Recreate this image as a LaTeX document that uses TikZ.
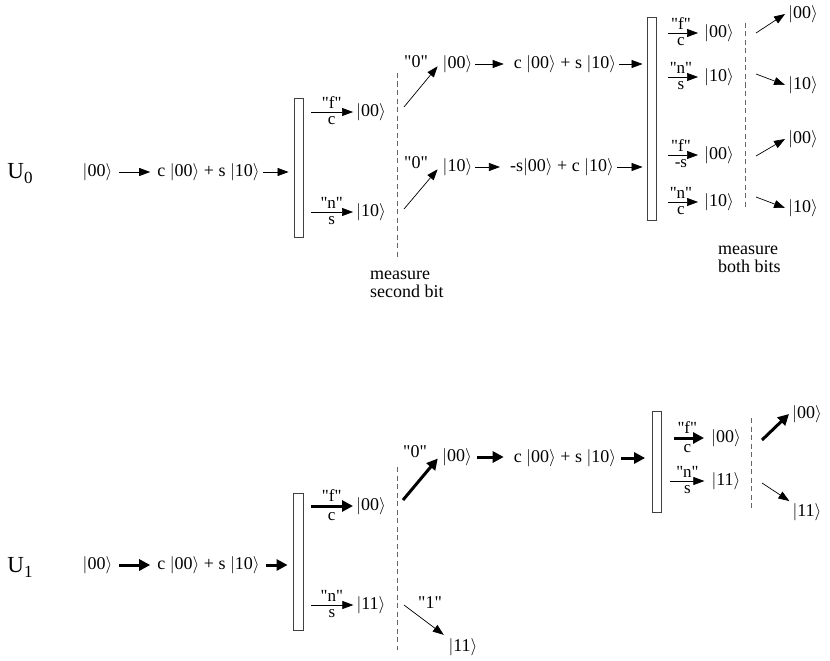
\documentclass[tikz,border=0pt]{standalone}
\usepackage{fontspec}
\setmainfont{Liberation Serif}[Ligatures=TeXOff]
\usepackage{tikz}
\usetikzlibrary{arrows.meta}
\tikzset{font={\fontsize{18pt}{21}\selectfont}}
\newcommand{\ket}[1]{$|$#1$\rangle$}
\newcommand{\qt}[1]{"#1"}

\begin{document}
\begin{tikzpicture}[x=1pt,y=-1pt,
st/.style={inner sep=3pt,text height=12pt,text depth=3.5pt},
lb/.style={inner sep=1.5pt,text height=11pt,text depth=2pt,font={\fontsize{17pt}{19}\selectfont}},
big/.style={font={\fontsize{23pt}{25}\selectfont}},
gate/.style={draw=black!75,line width=0.8pt,minimum width=9pt,inner sep=0pt},
meas/.style={black!60,line width=0.8pt,dash pattern=on 5pt off 3.5pt},
note/.style={align=left,anchor=north west,inner sep=0pt,font={\fontsize{18pt}{18}\selectfont}},
ar/.style={-{Triangle[length=11pt,width=8pt]},line width=0.7pt},
tk/.style={-{Triangle[length=11pt,width=11pt]},line width=3pt}
]
\useasboundingbox (0,0) rectangle (830,661);

% U_0
\node[big] (u0) at (20,174) {U\raisebox{-5pt}{\fontsize{17pt}{18}\selectfont 0}};
\node[st] (k0) at (97.5,172) {\ket{00}};
\node[st] (s0) at (208.5,172) {c \ket{00} + s \ket{10}};
\node[gate,minimum height=139pt] (g0) at (298.5,167.5) {};
\node[st] (a0) at (371,112) {\ket{00}};
\node[st] (b0) at (371,212) {\ket{10}};
\draw[ar,shorten <=4pt,shorten >=4pt] (k0) -- (s0);
\draw[ar,shorten >=5pt] (s0.east) -- (s0.east -| g0.west);
\draw[ar,shorten <=8pt] (g0.east |- a0) -- (a0.west) node[lb,pos=.57,above] {\qt{f}} node[lb,pos=.57,below] {c};
\draw[ar,shorten <=8pt] (g0.east |- b0) -- (b0.west) node[lb,pos=.57,above] {\qt{n}} node[lb,pos=.57,below] {s};

\draw[meas] (397,73) -- (397,257);
\node[note] (m0) at (370,271) {measure\\second bit};

\coordinate (c0) at (404,107);
\coordinate (c1) at (404,209);
\node[st] (z0) at (416,63) {\qt{0}};
\node[st] (z1) at (416,164) {\qt{0}};
\node[st] (a1) at (457.5,64) {\ket{00}};
\node[st] (b1) at (457.5,167) {\ket{10}};
\node[st] (a2) at (565,64) {c \ket{00} + s \ket{10}};
\node[st] (b2) at (562,167) {-s\ket{00} + c \ket{10}};
\node[gate,minimum height=203pt] (g1) at (651.5,118.5) {};
\draw[ar,shorten >=3pt] (c0) -- (a1.west);
\draw[ar,shorten >=3pt] (c1) -- (b1.west);
\draw[ar,shorten >=7pt] (a1) -- (a2);
\draw[ar,shorten >=7pt] (b1) -- (b2);
\draw[ar,shorten >=4pt] (a2.east) -- (a2.east -| g1.west);
\draw[ar,shorten >=4pt] (b2.east) -- (b2.east -| g1.west);

\foreach \n/\yy/\ks/\hi/\lo in {1/33/00/f/c,2/77/10/n/s,3/155/00/f/-s,4/202/10/n/c}
  {\node[st] (o\n) at (719,\yy) {\ket{\ks}};
   \draw[ar,shorten <=12pt,shorten >=3pt] (g1.east |- o\n) -- (o\n.west) node[lb,pos=.55,above] {\qt{\hi}} node[lb,pos=.55,below] {\lo};}

\draw[meas] (745,23) -- (745,208);
\foreach \n/\ey/\py/\ks in {1/33/14/00,2/74/85/10,3/156/139/00,4/197/208/10}
  {\coordinate (e\n) at (756,\ey);
   \node[st] (p\n) at (803,\py) {\ket{\ks}};
   \draw[ar] (e\n) -- (p\n.west);}
\node[note] (m1) at (718,246) {measure\\both bits};

% U_1
\node[big] (u1) at (20,567) {U\raisebox{-5pt}{\fontsize{17pt}{18}\selectfont 1}};
\node[st] (k1) at (97.5,565) {\ket{00}};
\node[st] (s1) at (208.5,565) {c \ket{00} + s \ket{10}};
\node[gate,minimum height=137pt,minimum width=10pt] (g2) at (298,561.5) {};
\node[st] (a3) at (371,506) {\ket{00}};
\node[st] (b3) at (371,605) {\ket{11}};
\draw[tk,shorten <=4pt,shorten >=4pt] (k1) -- (s1);
\draw[tk,shorten <=3pt,shorten >=5pt] (s1.east) -- (s1.east -| g2.west);
\draw[tk,shorten <=8pt] (g2.east |- a3) -- (a3.west) node[lb,pos=.57,above] {\qt{f}} node[lb,pos=.57,below] {c};
\draw[ar,shorten <=8pt] (g2.east |- b3) -- (b3.west) node[lb,pos=.57,above] {\qt{n}} node[lb,pos=.57,below] {s};

\draw[meas] (397,467) -- (397,650);

\coordinate (c2) at (403,500);
\coordinate (c3) at (404,605);
\node[st] (z2) at (415,453) {\qt{0}};
\node[st] (z3) at (430,604) {\qt{1}};
\node[st] (a4) at (457,457) {\ket{00}};
\node[st] (b4) at (463,647) {\ket{11}};
\node[st] (a5) at (565,458) {c \ket{00} + s \ket{10}};
\node[gate,minimum height=101pt] (g3) at (657,461.5) {};
\draw[tk,shorten >=2pt] (c2) -- (a4.west);
\draw[ar,shorten >=2pt] (c3) -- (b4.north west);
\draw[tk,shorten <=2pt,shorten >=7pt] (a4.east) -- (a4.east -| a5.west);
\draw[tk,shorten <=2pt,shorten >=7pt] (a5.east) -- (a5.east -| g3.west);

\node[st] (o5) at (726,438) {\ket{00}};
\node[st] (o6) at (726,481) {\ket{11}};
\draw[tk,shorten <=12pt,shorten >=4pt] (g3.east |- o5) -- (o5.west) node[lb,pos=.55,above] {\qt{f}} node[lb,pos=.55,below] {c};
\draw[ar,shorten <=8.5pt,shorten >=4pt] (g3.east |- o6) -- (o6.west) node[lb,pos=.55,above] {\qt{n}} node[lb,pos=.55,below] {s};

\draw[meas] (751,418) -- (751,510);
\coordinate (e5) at (762,440);
\coordinate (e6) at (762,483);
\node[st] (p5) at (807,414) {\ket{00}};
\node[st] (p6) at (807,512) {\ket{11}};
\draw[tk] (e5) -- (p5.west);
\draw[ar] (e6) -- (p6.north west);

\end{tikzpicture}
\end{document}
